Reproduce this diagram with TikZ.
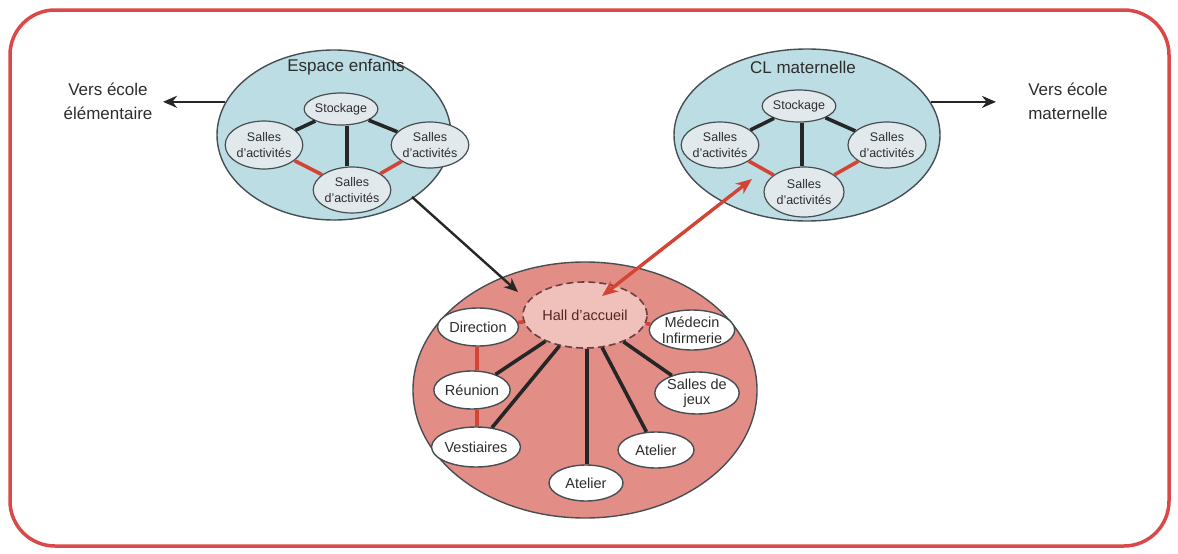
\documentclass[tikz,border=0pt]{standalone}
\usepackage{fontspec}
\setmainfont{Liberation Sans}
\usetikzlibrary{shapes.geometric,arrows.meta,calc}
\definecolor{frame}{RGB}{218,72,72}
\definecolor{bluefill}{RGB}{188,221,228}
\definecolor{innerfill}{RGB}{226,233,236}
\definecolor{edge}{RGB}{70,78,82}
\definecolor{pinkfill}{RGB}{226,142,134}
\definecolor{hallfill}{RGB}{240,192,186}
\definecolor{redline}{RGB}{212,68,52}
\definecolor{txt}{RGB}{45,45,45}
\tikzset{
  big/.style={ellipse, draw=edge, line width=1.4pt, inner sep=0pt},
  room/.style={ellipse, draw=edge, line width=1.2pt, fill=innerfill, inner sep=0pt, align=center, text=txt, font=\fontsize{12.5}{15.5}\selectfont},
  wroom/.style={ellipse, draw=edge, line width=1.4pt, fill=white, inner sep=0pt, align=center, text=txt, font=\fontsize{14.5}{15.5}\selectfont},
  blk/.style={line width=3.6pt, draw=black!85},
  rdl/.style={line width=3.6pt, draw=redline},
  arr/.style={line width=2.4pt, draw=black!85, -{Stealth[length=14pt,width=12pt]}},
  rarr/.style={line width=3.4pt, draw=redline, {Stealth[length=16pt,width=13pt]}-{Stealth[length=16pt,width=13pt]}},
  lbl/.style={align=center, text=txt, font=\fontsize{17}{24}\selectfont, inner sep=0pt},
}
\begin{document}
\begin{tikzpicture}[x=1pt,y=-1pt]
\useasboundingbox (0,0) rectangle (1178,554);
\draw[frame, line width=3.5pt, rounded corners=45pt] (10,10) rectangle (1169,546);

% big ellipses
\node[big, fill=bluefill, minimum width=234pt, minimum height=170pt] (espace) at (334,135) {};
\node[big, fill=bluefill, minimum width=266pt, minimum height=172pt] (clm) at (807,135) {};
\node[big, fill=pinkfill, minimum width=344pt, minimum height=256pt] (accueil) at (585,390) {};

\node[text=txt, font=\fontsize{17}{20}\selectfont] (t1) at (346,67) {Espace enfants};
\node[text=txt, font=\fontsize{17}{20}\selectfont] (t2) at (803,67) {CL maternelle};

% left cluster
\node[room, minimum width=70pt, minimum height=32pt] (s1) at (341,109) {Stockage};
\node[room, minimum width=72pt, minimum height=48pt] (a1) at (264,145) {Salles\\d'activités};
\node[room, minimum width=74pt, minimum height=46pt] (b1) at (430,145) {Salles\\d'activités};
\node[room, minimum width=76pt, minimum height=46pt] (c1) at (352,190) {Salles\\d'activités};
\draw[blk] (s1) -- (a1);
\draw[blk] (s1) -- (b1);
\draw[blk] (s1.south -| 347,0) -- (c1.north -| 347,0);
\draw[rdl] (a1) -- (c1);
\draw[rdl] (b1) -- (c1);

% right cluster
\node[room, minimum width=72pt, minimum height=32pt] (s2) at (799,106) {Stockage};
\node[room, minimum width=74pt, minimum height=46pt] (a2) at (720,145) {Salles\\d'activités};
\node[room, minimum width=78pt, minimum height=46pt] (b2) at (887,145) {Salles\\d'activités};
\node[room, minimum width=80pt, minimum height=50pt] (c2) at (804,192) {Salles\\d'activités};
\draw[blk] (s2) -- (a2);
\draw[blk] (s2) -- (b2);
\draw[blk] (s2.south -| 802,0) -- (c2.north -| 802,0);
\draw[rdl] (a2) -- (c2);
\draw[rdl] (b2) -- (c2);

% bottom cluster
\node[ellipse, draw=edge!80!red, dashed, dash pattern=on 7pt off 4pt, line width=1.6pt, fill=hallfill, minimum width=124pt, minimum height=66pt, inner sep=0pt, text=txt!80!red, font=\fontsize{14.5}{16}\selectfont] (hall) at (585,315) {Hall d'accueil};
\node[wroom, minimum width=76pt, minimum height=38pt] (dir) at (478,327) {Direction};
\node[wroom, minimum width=76pt, minimum height=40pt] (med) at (692,330) {Médecin\\Infirmerie};
\node[wroom, minimum width=74pt, minimum height=38pt] (reu) at (472,390) {Réunion};
\node[wroom, minimum width=80pt, minimum height=42pt] (jeux) at (697,393) {Salles de\\jeux};
\node[wroom, minimum width=74pt, minimum height=40pt] (vest) at (476,447) {Vestiaires};
\node[wroom, minimum width=76pt, minimum height=36pt] (at1) at (656,450) {Atelier};
\node[wroom, minimum width=74pt, minimum height=36pt] (at2) at (586,483) {Atelier};
\draw[rdl] (dir) -- (hall);
\draw[rdl] (med) -- (hall);
\draw[rdl] (dir.south -| 477,0) -- (reu.north -| 477,0);
\draw[rdl] (reu.south -| 477,0) -- (vest.north -| 477,0);
\draw[blk] (hall) -- (reu);
\draw[blk] (hall) -- (vest);
\draw[blk] (hall.south -| 587,0) -- (at2.north -| 587,0);
\draw[blk] (hall) -- (at1);
\draw[blk] (hall) -- (jeux);

% outer labels and arrows
\node[lbl] (vl) at (108,101) {Vers école\\élémentaire};
\node[lbl] (vr) at (1068,101) {Vers école\\maternelle};
\draw[arr] (espace.163) -- (espace.163 -| 163,0);
\draw[arr] (clm.15) -- (clm.15 -| 996,0);
\draw[arr] ($(espace.center)+(78,62)$) -- ($(hall.center)+(-67,-23)$);
\draw[rarr] ($(hall.center)+(17,-19)$) -- ($(clm.center)+(-55,44)$);
\end{tikzpicture}
\end{document}
